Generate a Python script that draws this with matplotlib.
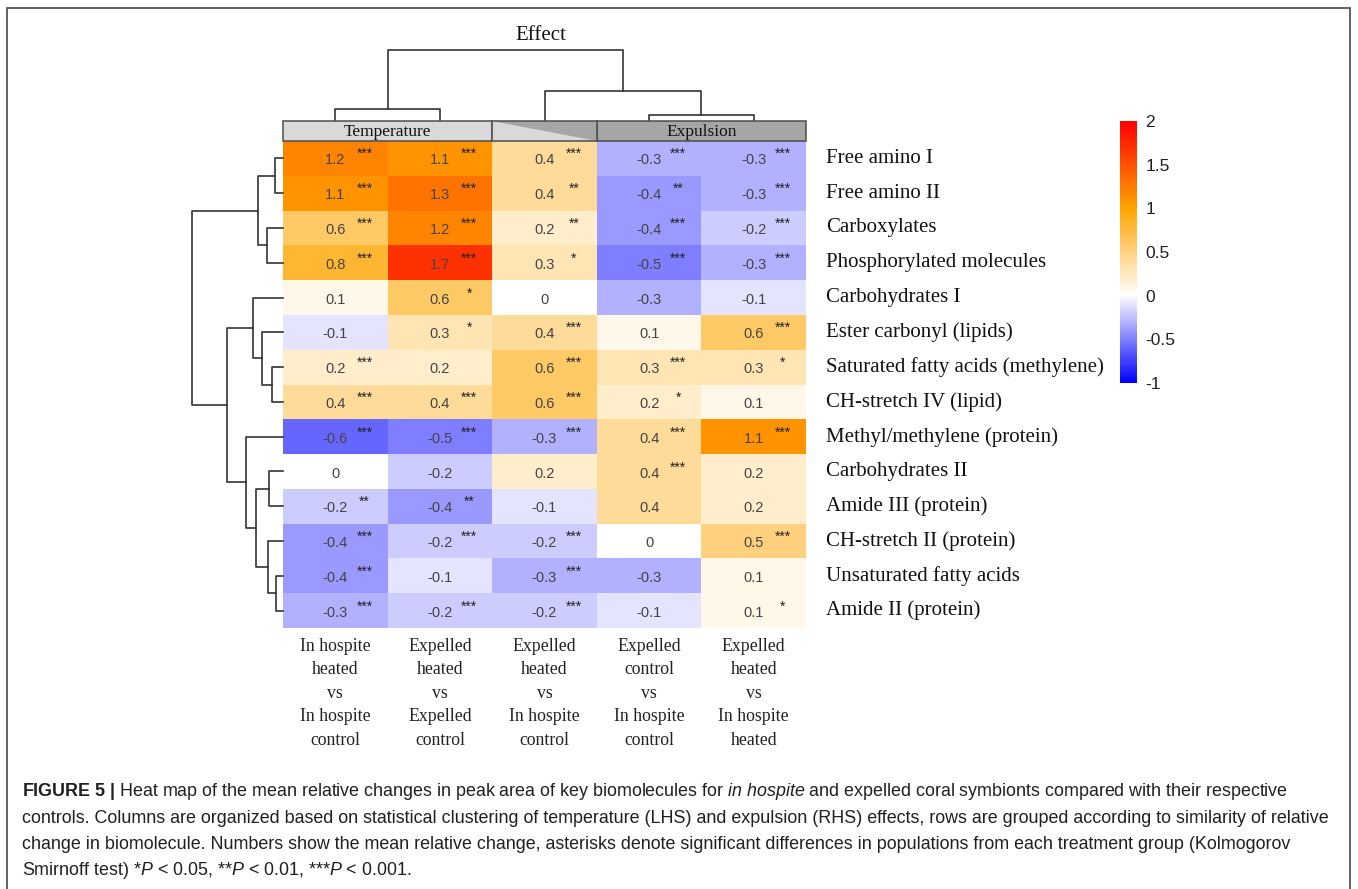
import numpy as np
import matplotlib.pyplot as plt
from matplotlib.colors import LinearSegmentedColormap
from matplotlib.patches import Rectangle, Polygon

plt.rcParams['mathtext.fontset'] = 'custom'
plt.rcParams['mathtext.rm'] = 'Liberation Sans'
plt.rcParams['mathtext.it'] = 'Liberation Sans:italic'
plt.rcParams['mathtext.bf'] = 'Liberation Sans:bold'

W, H = 1358, 889

# ---- data ----
rows = ['Free amino I', 'Free amino II', 'Carboxylates', 'Phosphorylated molecules',
        'Carbohydrates I', 'Ester carbonyl (lipids)', 'Saturated fatty acids (methylene)',
        'CH-stretch IV (lipid)', 'Methyl/methylene (protein)', 'Carbohydrates II',
        'Amide III (protein)', 'CH-stretch II (protein)', 'Unsaturated fatty acids',
        'Amide II (protein)']
cols = ['In hospite\nheated\nvs\nIn hospite\ncontrol',
        'Expelled\nheated\nvs\nExpelled\ncontrol',
        'Expelled\nheated\nvs\nIn hospite\ncontrol',
        'Expelled\ncontrol\nvs\nIn hospite\ncontrol',
        'Expelled\nheated\nvs\nIn hospite\nheated']
col_group = ['Temperature', 'Temperature', 'Both', 'Expulsion', 'Expulsion']

vals = np.array([
    [1.2, 1.1, 0.4, -0.3, -0.3],
    [1.1, 1.3, 0.4, -0.4, -0.3],
    [0.6, 1.2, 0.2, -0.4, -0.2],
    [0.8, 1.7, 0.3, -0.5, -0.3],
    [0.1, 0.6, 0.0, -0.3, -0.1],
    [-0.1, 0.3, 0.4, 0.1, 0.6],
    [0.2, 0.2, 0.6, 0.3, 0.3],
    [0.4, 0.4, 0.6, 0.2, 0.1],
    [-0.6, -0.5, -0.3, 0.4, 1.1],
    [0.0, -0.2, 0.2, 0.4, 0.2],
    [-0.2, -0.4, -0.1, 0.4, 0.2],
    [-0.4, -0.2, -0.2, 0.0, 0.5],
    [-0.4, -0.1, -0.3, -0.3, 0.1],
    [-0.3, -0.2, -0.2, -0.1, 0.1],
])
stars = [
    ['***', '***', '***', '***', '***'],
    ['***', '***', '**', '**', '***'],
    ['***', '***', '**', '***', '***'],
    ['***', '***', '*', '***', '***'],
    ['', '*', '', '', ''],
    ['', '*', '***', '', '***'],
    ['***', '', '***', '***', '*'],
    ['***', '***', '***', '*', ''],
    ['***', '***', '***', '***', '***'],
    ['', '', '', '***', ''],
    ['**', '**', '', '', ''],
    ['***', '***', '***', '', '***'],
    ['***', '', '***', '', ''],
    ['***', '***', '***', '', '*'],
]

# dendrogram merges: (cluster a, cluster b, height); new clusters numbered from n
row_links = [(0, 1, 8), (2, 3, 16), (14, 15, 25), (6, 7, 11), (5, 17, 21), (4, 18, 30),
             (12, 13, 7), (11, 20, 15), (9, 10, 14), (22, 21, 27), (8, 23, 37),
             (19, 24, 56), (16, 25, 91)]
col_links = [(0, 1, 12), (3, 4, 6), (2, 6, 30), (5, 7, 71)]

cbar_ticks = [-1, -0.5, 0, 0.5, 1, 1.5, 2]

caption = [
    r'$\bf{FIGURE\ 5\ |}$ Heat map of the mean relative changes in peak area of key biomolecules for '
    r'$\it{in\ hospite}$ and expelled coral symbionts compared with their respective',
    'controls. Columns are organized based on statistical clustering of temperature (LHS) and '
    'expulsion (RHS) effects, rows are grouped according to similarity of relative',
    'change in biomolecule. Numbers show the mean relative change, asterisks denote significant '
    'differences in populations from each treatment group (Kolmogorov',
    r'Smirnoff test) *$\it{P}$ < 0.05, **$\it{P}$ < 0.01, ***$\it{P}$ < 0.001.',
]


def box(x0, y0, x1, y1):
    return [x0 / W, 1 - y1 / H, (x1 - x0) / W, (y1 - y0) / H]


def draw_dendro(ax, links, n, side):
    pos = {i: i + 0.5 for i in range(n)}
    hgt = {i: 0 for i in range(n)}
    for k, (a, b, h) in enumerate(links):
        p = [pos[a], pos[a], pos[b], pos[b]]
        q = [hgt[a], h, h, hgt[b]]
        if side == 'top':
            ax.plot(p, q, color='#333333', lw=1.2, clip_on=False)
        else:
            ax.plot(q, p, color='#333333', lw=1.2, clip_on=False)
        pos[n + k] = (pos[a] + pos[b]) / 2
        hgt[n + k] = h


cmap = LinearSegmentedColormap.from_list(
    'bwor', [(0, '#0000ff'), (1 / 3, '#ffffff'), (2 / 3, '#ffa500'), (1, '#ff0000')])

fig = plt.figure(figsize=(W / 100, H / 100), dpi=100)

# heat map
ax = fig.add_axes(box(283, 141, 806, 628))
mesh = ax.pcolormesh(vals, cmap=cmap, vmin=-1, vmax=2)
ax.set_xlim(0, 5)
ax.set_ylim(14, 0)
ax.axis('off')
for i in range(len(rows)):
    for j in range(len(cols)):
        ax.text(j + 0.5, i + 0.56, '%g' % vals[i, j], ha='center', va='center',
                fontsize=10.5, color='#444444', family='Liberation Sans')
        if stars[i][j]:
            ax.text(j + 0.78, i + 0.38, stars[i][j], ha='center', va='center',
                    fontsize=10, color='#222222', family='Liberation Sans')
    ax.text(5.19, i + 0.5, rows[i], ha='left', va='center', fontsize=15,
            family='Liberation Serif', color='#111111', clip_on=False)
for j, lab in enumerate(cols):
    ax.text(j + 0.5, 14.28, lab, ha='center', va='top', fontsize=12.8,
            family='Liberation Serif', color='#222222', linespacing=1.5, clip_on=False)

# row dendrogram
axr = fig.add_axes(box(192, 141, 283, 628))
draw_dendro(axr, row_links, len(rows), 'left')
axr.set_ylim(14, 0)
axr.set_xlim(91, 0)
axr.axis('off')

# column dendrogram
axc = fig.add_axes(box(283, 50, 806, 121))
draw_dendro(axc, col_links, len(cols), 'top')
axc.set_xlim(0, 5)
axc.set_ylim(0, 71)
axc.axis('off')
fig.text(541 / W, 1 - 35 / H, 'Effect', ha='center', va='center', fontsize=15,
         family='Liberation Serif', color='#111111')

# annotation bar
axa = fig.add_axes(box(283, 121, 806, 141))
axa.set_xlim(0, 5)
axa.set_ylim(0, 1)
axa.axis('off')
light, dark = '#d9d9d9', '#a6a6a6'
for g, fc in [('Temperature', light), ('Expulsion', dark)]:
    idx = [j for j, c in enumerate(col_group) if c == g]
    x0, x1 = min(idx), max(idx) + 1
    axa.add_patch(Rectangle((x0, 0), x1 - x0, 1, fc=fc, ec='#4d4d4d', lw=1.1, clip_on=False))
    axa.text((x0 + x1) / 2, 0.45, g, ha='center', va='center', fontsize=12.5,
             family='Liberation Serif', color='#111111')
for j, c in enumerate(col_group):
    if c == 'Both':
        axa.add_patch(Rectangle((j, 0), 1, 1, fc=light, ec='none'))
        axa.add_patch(Polygon([(j, 1), (j + 1, 1), (j + 1, 0)], fc=dark, ec='none'))
        axa.add_patch(Rectangle((j, 0), 1, 1, fc='none', ec='#4d4d4d', lw=1.1, clip_on=False))

# colour bar
cax = fig.add_axes(box(1120, 121, 1137, 383))
cb = fig.colorbar(mesh, cax=cax, ticks=cbar_ticks)
cb.outline.set_visible(False)
cax.tick_params(length=0, pad=6, labelsize=12.5, labelcolor='#222222')
cax.set_yticklabels(['%g' % t for t in cbar_ticks], family='Liberation Sans')

# frame and caption
fig.add_artist(Rectangle((7 / W, -0.02), 1343 / W, 1 - 8 / H + 0.02, transform=fig.transFigure,
                         fill=False, ec='#555555', lw=1.3))
for k, line in enumerate(caption):
    fig.text(22 / W, 1 - (792 + 26.3 * k) / H, line, ha='left', va='center', fontsize=12.9,
             family='Liberation Sans', color='#231f20')

fig.savefig('out.png', dpi=100)
